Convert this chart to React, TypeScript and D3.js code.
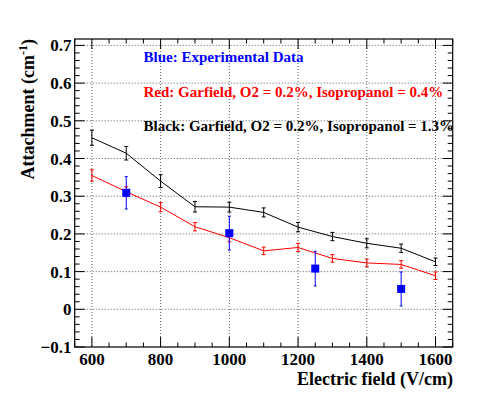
import React from "react";
import * as d3 from "d3";

const simX = [600, 700, 800, 900, 1000, 1100, 1200, 1300, 1400, 1500, 1600];
const blackY = [0.455, 0.414, 0.340, 0.272, 0.271, 0.257, 0.218, 0.193, 0.175, 0.162, 0.126];
const blackErr = [0.02, 0.018, 0.017, 0.014, 0.013, 0.012, 0.0125, 0.011, 0.012, 0.011, 0.01];
const redY = [0.355, 0.312, 0.271, 0.219, 0.19, 0.155, 0.164, 0.135, 0.123, 0.119, 0.089];
const redErr = [0.015, 0.013, 0.012, 0.011, 0.011, 0.01, 0.011, 0.01, 0.01, 0.01, 0.01];
const expX = [700, 1000, 1250, 1500];
const expY = [0.309, 0.202, 0.108, 0.054];
const expErr = [0.043, 0.045, 0.046, 0.045];
const xTickLabels = [600, 800, 1000, 1200, 1400, 1600];
const yTickLabels = [-0.1, 0, 0.1, 0.2, 0.3, 0.4, 0.5, 0.6, 0.7];
const legendTexts = [
  "Blue: Experimental Data",
  "Red: Garfield, O2 = 0.2%, Isopropanol = 0.4%",
  "Black: Garfield, O2 = 0.2%, Isopropanol = 1.3%",
];

const W = 498, H = 395;
const L = 74.7, R = 452.7, T = 39, B = 347;
const FONT = "Liberation Serif, DejaVu Serif, serif";
const tStyle = { fontFamily: FONT, fontWeight: 700 as const };

export default function App() {
  const x = d3.scaleLinear().domain([550, 1650]).range([L, R]);
  const y = d3.scaleLinear().domain([-0.1, 0.717]).range([B, T]);
  const line = d3.line<[number, number]>().x(d => x(d[0])).y(d => y(d[1]));

  const xMinor = d3.range(550, 1651, 50);
  const yMinor = d3.range(-0.1, 0.7171, 0.02).map(v => Math.round(v * 1000) / 1000);
  const isXMajor = (v: number) => v % 200 === 0;
  const isYMajor = (v: number) => Math.abs(Math.round(v * 10) - v * 10) < 1e-6;

  const errBars = (xs: number[], ys: number[], es: number[], color: string, cap: number, key: string) =>
    xs.map((xv, i) => {
      const cx = x(xv), y1 = y(ys[i] + es[i]), y2 = y(ys[i] - es[i]);
      return (
        <g key={key + i} stroke={color} strokeWidth={1}>
          <line x1={cx} x2={cx} y1={y1} y2={y2} />
          <line x1={cx - cap} x2={cx + cap} y1={y1} y2={y1} />
          <line x1={cx - cap} x2={cx + cap} y1={y2} y2={y2} />
        </g>
      );
    });

  return (
    <svg width={W} height={H} style={{ position: "absolute", left: 0, top: 0, background: "#fff" }}>
      <rect x={0} y={0} width={W} height={H} fill="#fff" />
      {/* grid */}
      <g stroke="#000" strokeWidth={0.8} strokeDasharray="1 2" opacity={0.8}>
        {xTickLabels.map(v => (
          <line key={"gx" + v} x1={x(v)} x2={x(v)} y1={T} y2={B} />
        ))}
        {yTickLabels.filter(v => v > -0.1).map(v => (
          <line key={"gy" + v} x1={L} x2={R} y1={y(v)} y2={y(v)} />
        ))}
      </g>
      {/* ticks */}
      <g stroke="#000" strokeWidth={1}>
        {xMinor.map(v => {
          const len = isXMajor(v) ? 10 : 4.5;
          return (
            <g key={"tx" + v}>
              <line x1={x(v)} x2={x(v)} y1={B} y2={B - len} />
              <line x1={x(v)} x2={x(v)} y1={T} y2={T + len} />
            </g>
          );
        })}
        {yMinor.map(v => {
          const len = isYMajor(v) ? 10 : 5;
          return (
            <g key={"ty" + v}>
              <line x1={L} x2={L + len} y1={y(v)} y2={y(v)} />
              <line x1={R} x2={R - len} y1={y(v)} y2={y(v)} />
            </g>
          );
        })}
      </g>
      {/* frame */}
      <rect x={L} y={T} width={R - L} height={B - T} fill="none" stroke="#000" strokeWidth={1.2} />

      {/* black series */}
      <path d={line(simX.map((v, i) => [v, blackY[i]]) as any) || ""} fill="none" stroke="#000" strokeWidth={1} />
      {errBars(simX, blackY, blackErr, "#000", 2, "b")}
      {/* red series */}
      <path d={line(simX.map((v, i) => [v, redY[i]]) as any) || ""} fill="none" stroke="#ff0000" strokeWidth={1} />
      {errBars(simX, redY, redErr, "#ff0000", 2, "r")}
      {/* experimental */}
      {errBars(expX, expY, expErr, "#0000ff", 1.5, "e")}
      {expX.map((v, i) => (
        <rect key={"sq" + i} x={x(v) - 4} y={y(expY[i]) - 4} width={8} height={8} fill="#0000ff" />
      ))}

      {/* tick labels */}
      {xTickLabels.map(v => (
        <text key={"xl" + v} x={x(v)} y={365} textAnchor="middle" fontSize={17} fill="#000" style={tStyle}>{v}</text>
      ))}
      {yTickLabels.map(v => (
        <text key={"yl" + v} x={71.5} y={y(v) + 6} textAnchor="end" fontSize={17} fill="#000" style={tStyle}>
          {v === 0 ? "0" : v.toString().replace("-", "\u2212")}
        </text>
      ))}
      {/* axis titles */}
      <text x={453} y={385} textAnchor="end" fontSize={18} style={tStyle}>Electric field (V/cm)</text>
      <text transform="translate(34,39) rotate(-90)" textAnchor="end" fontSize={18} style={tStyle}>
        Attachment (cm<tspan fontSize={12} dy={-7}>-1</tspan><tspan dy={7}>)</tspan>
      </text>
      {/* legend texts */}
      <text x={143.5} y={61.5} fill="#0000ff" fontSize={15} style={tStyle}>{legendTexts[0]}</text>
      <text x={143.5} y={97} fill="#ff0000" fontSize={15} style={tStyle}>{legendTexts[1]}</text>
      <text x={143.5} y={131} fill="#000" fontSize={15} style={tStyle}>{legendTexts[2]}</text>
    </svg>
  );
}
